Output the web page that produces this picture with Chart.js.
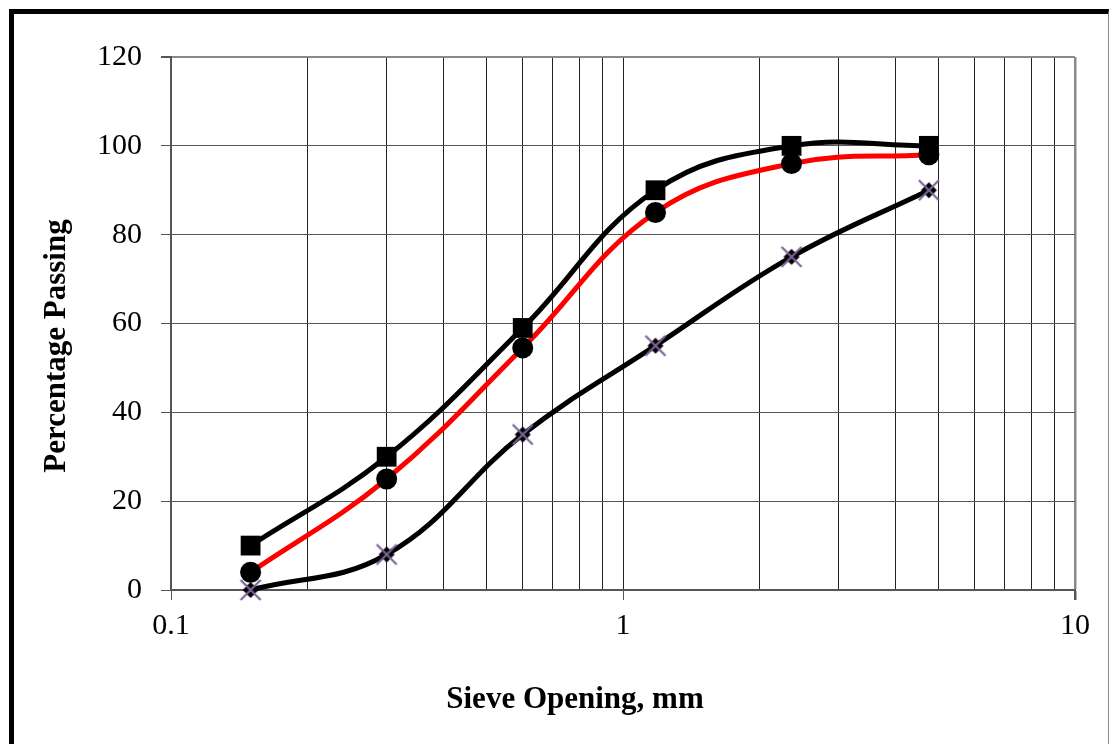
<!DOCTYPE html>
<html>
<head>
<meta charset="utf-8">
<script src="https://cdn.jsdelivr.net/npm/chart.js@4.4.0/dist/chart.umd.min.js"></script>
<style>
  html, body { margin: 0; padding: 0; background: #fff; overflow: hidden; }
  #wrap { position: relative; width: 1109px; height: 744px; }
  #frame {
    position: absolute; left: 9px; top: 9px; width: 1094px; height: 760px;
    border-left: 5px solid #000; border-top: 5px solid #000; border-right: 1px solid #888;
    pointer-events: none;
  }
</style>
</head>
<body>
<div id="wrap">
  <canvas id="grading" width="1109" height="744"></canvas>
  <div id="frame"></div>
</div>
<script>
// sieve sizes (mm) and percent passing
const sieveSizes = [0.15, 0.3, 0.6, 1.18, 2.36, 4.75];
const upperLimit = [10, 30, 59, 90, 100, 100];
const sampleGrading = [4, 25, 54.5, 85, 96, 98];
const lowerLimit = [0, 8, 35, 55, 75, 90];

// axis ticks
const xGridValues = [0.1, 0.2, 0.3, 0.4, 0.5, 0.6, 0.7, 0.8, 0.9, 1, 2, 3, 4, 5, 6, 7, 8, 9, 10];
const xTickLabels = [0.1, 1, 10];
const yTickValues = [0, 20, 40, 60, 80, 100, 120];

function toPoints(vals) {
    return sieveSizes.map((s, i) => ({ x: s, y: vals[i] }));
}

// marker: black diamond with purple x on top
const crossMarker = document.createElement('canvas');
crossMarker.width = 26;
crossMarker.height = 26;
(function () {
    const c = crossMarker.getContext('2d');
    c.fillStyle = '#000';
    c.beginPath();
    c.moveTo(13, 5); c.lineTo(21, 13); c.lineTo(13, 21); c.lineTo(5, 13);
    c.closePath();
    c.fill();
    c.strokeStyle = '#7b6399';
    c.lineWidth = 2.2;
    c.beginPath();
    c.moveTo(3, 3); c.lineTo(23, 23);
    c.moveTo(23, 3); c.lineTo(3, 23);
    c.stroke();
})();

const serif = '"Liberation Serif", "Times New Roman", serif';

// axis titles drawn at the positions used in the original
const titlesPlugin = {
    id: 'titles',
    afterDraw(chart) {
        const c = chart.ctx;
        c.save();
        c.fillStyle = '#000';
        c.font = 'bold 31px ' + serif;
        c.textAlign = 'center';
        c.textBaseline = 'middle';
        c.fillText('Sieve Opening, mm', 575, 700);
        c.translate(57, 346);
        c.rotate(-Math.PI / 2);
        c.fillText('Percentage Passing', 0, 0);
        c.restore();
    }
};

const ctx = document.getElementById('grading').getContext('2d');
const chart = new Chart(ctx, {
    type: 'line',
    data: {
        datasets: [{
            label: 'Upper',
            data: toPoints(upperLimit),
            borderColor: '#000',
            backgroundColor: '#000',
            borderWidth: 5,
            tension: 0.4,
            pointStyle: 'rect',
            pointRadius: 14,
            pointBorderWidth: 0
        }, {
            label: 'Sample',
            data: toPoints(sampleGrading),
            borderColor: '#ff0000',
            backgroundColor: '#000',
            pointBorderColor: '#000',
            borderWidth: 5,
            tension: 0.4,
            pointStyle: 'circle',
            pointRadius: 10.5,
            pointBorderWidth: 0
        }, {
            label: 'Lower',
            data: toPoints(lowerLimit),
            borderColor: '#000',
            backgroundColor: '#000',
            borderWidth: 5,
            tension: 0.4,
            pointStyle: crossMarker,
            pointRadius: 13
        }]
    },
    options: {
        responsive: false,
        animation: false,
        clip: false,
        layout: { padding: { left: 0, top: 57, right: 34, bottom: 94 } },
        plugins: {
            legend: { display: false },
            tooltip: { enabled: false }
        },
        scales: {
            x: {
                type: 'logarithmic',
                min: 0.1,
                max: 10,
                afterBuildTicks: function (scale) {
                    scale.ticks = xGridValues.map(v => ({ value: v }));
                },
                afterFit: function (scale) { scale.height = 60; },
                ticks: {
                    autoSkip: false,
                    maxRotation: 0,
                    padding: 8,
                    color: '#000',
                    font: { family: serif, size: 30 },
                    callback: function (v) {
                        return xTickLabels.includes(v) ? String(v) : '';
                    }
                },
                grid: {
                    color: function (c) { return c.tick && c.tick.value === 10 ? '#8a8a8a' : '#222'; },
                    lineWidth: function (c) { return c.tick && c.tick.value === 10 ? 2.5 : 1; },
                    tickLength: 10,
                    tickColor: function (c) {
                        return c.tick && xTickLabels.includes(c.tick.value) ? '#555' : 'rgba(0,0,0,0)';
                    }
                },
                border: { color: '#555', width: 2 }
            },
            y: {
                min: 0,
                max: 120,
                afterBuildTicks: function (scale) {
                    scale.ticks = yTickValues.map(v => ({ value: v }));
                },
                afterFit: function (scale) { scale.width = 171; },
                ticks: {
                    padding: 19,
                    color: '#000',
                    font: { family: serif, size: 30 }
                },
                grid: {
                    color: function (c) { return c.tick && c.tick.value === 120 ? '#8a8a8a' : '#555'; },
                    lineWidth: function (c) { return c.tick && c.tick.value === 120 ? 2 : 1; },
                    tickLength: 10,
                    tickColor: '#555'
                },
                border: { color: '#555', width: 2 }
            }
        }
    },
    plugins: [titlesPlugin]
});
</script>
</body>
</html>
